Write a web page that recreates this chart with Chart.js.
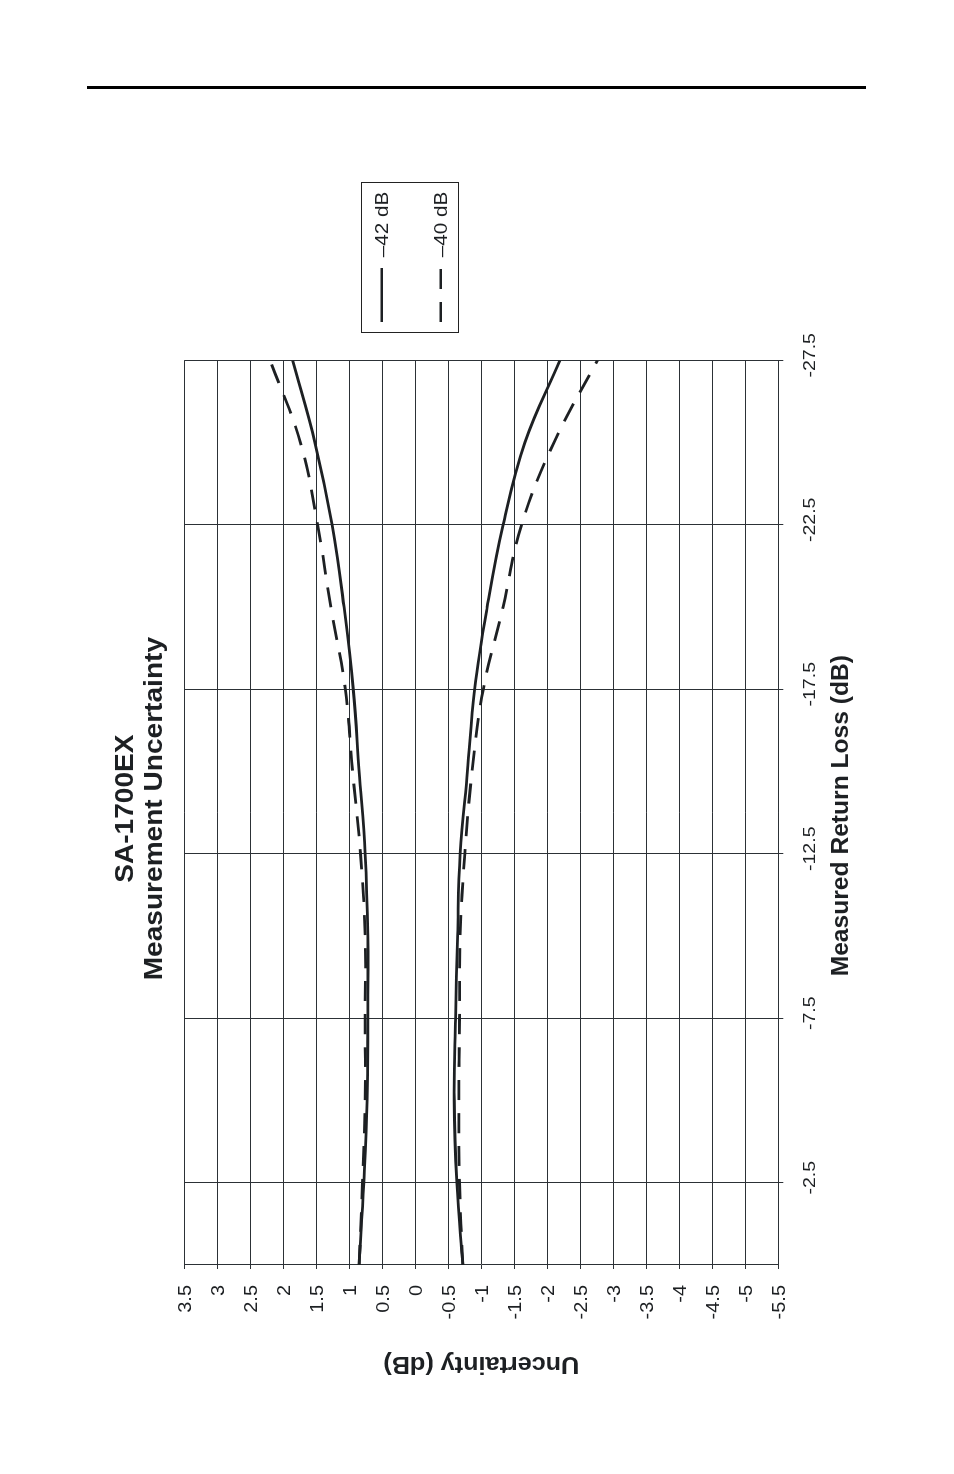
<!DOCTYPE html>
<html>
<head>
<meta charset="utf-8">
<title>SA-1700EX Measurement Uncertainty</title>
<script src="https://cdn.jsdelivr.net/npm/chart.js@4.4.1/dist/chart.umd.min.js"></script>
<style>
  html, body { margin: 0; padding: 0; background: #fff; width: 954px; height: 1474px; overflow: hidden; }
  .rule { position: absolute; left: 87px; top: 86px; width: 779px; height: 3px; background: #000; }
  /* the chart is drawn upright, then turned a quarter turn to the left like the printed page */
  #turn { position: absolute; left: 0; top: 1474px; width: 1474px; height: 954px; transform-origin: 0 0; transform: rotate(-90deg); }
</style>
</head>
<body>
<div class="rule"></div>
<div id="turn"><canvas id="chart" width="1474" height="954"></canvas></div>
<script>
// --- DATA ---
const titleLines = ['SA-1700EX', 'Measurement Uncertainty'];
const xTitle = 'Measured Return Loss (dB)';
const yTitle = 'Uncertainty (dB)';
const legendLabels = ['\u201342 dB', '\u201340 dB'];

const returnLoss = [0, -2.5, -5, -7.5, -10, -12.5, -15, -17.5, -20, -22.5, -25, -27.5];
const upper42 = [0.85, 0.78, 0.73, 0.72, 0.72, 0.76, 0.85, 0.94, 1.08, 1.26, 1.52, 1.86];
const lower42 = [-0.72, -0.63, -0.59, -0.61, -0.64, -0.68, -0.79, -0.90, -1.09, -1.33, -1.66, -2.19];
const upper40 = [0.85, 0.80, 0.76, 0.76, 0.76, 0.83, 0.95, 1.06, 1.28, 1.48, 1.74, 2.20];
const lower40 = [-0.72, -0.67, -0.66, -0.67, -0.68, -0.75, -0.86, -1.03, -1.33, -1.61, -2.10, -2.76];

const rlTicks = [-2.5, -7.5, -12.5, -17.5, -22.5, -27.5];
const uTicks = [3.5, 3, 2.5, 2, 1.5, 1, 0.5, 0, -0.5, -1, -1.5, -2, -2.5, -3, -3.5, -4, -4.5, -5, -5.5];

const ink = '#1d2023';
const gridInk = '#2c3136';
const face = '"Liberation Sans", Arial, sans-serif';
const dash = [20, 13];

function pts(ys) {
    return returnLoss.map((x, i) => ({ x: x, y: ys[i] }));
}

// text with a little horizontal stretch, as in the scanned original
function put(c, s, x, y, font, sx, align, rot) {
    c.save();
    c.translate(x, y);
    if (rot) c.rotate(rot);
    c.scale(sx, 1);
    c.font = font;
    c.textAlign = align;
    c.textBaseline = 'alphabetic';
    c.fillText(s, 0, 0);
    c.restore();
}

const textPlugin = {
    id: 'pageText',
    afterDraw(chart) {
        const c = chart.ctx;
        const xs = chart.scales.x;
        const ys = chart.scales.y;
        const area = chart.chartArea;
        const mid = (area.left + area.right) / 2;
        c.save();
        c.fillStyle = ink;

        // title
        put(c, titleLines[0], mid + 4, 133, 'bold 26px ' + face, 1.08, 'center');
        put(c, titleLines[1], mid + 4, 162, 'bold 26px ' + face, 1.08, 'center');

        // uncertainty tick labels
        uTicks.forEach(v => {
            put(c, String(v), area.left - 20, ys.getPixelForValue(v) + 6.8, '19px ' + face, 1.05, 'right');
        });
        put(c, yTitle, 117, (area.top + area.bottom) / 2, 'bold 24px ' + face, 1.05, 'center', -Math.PI / 2);

        // return loss tick labels
        rlTicks.forEach(v => {
            put(c, String(v), xs.getPixelForValue(v) + 5, area.bottom + 37, '17px ' + face, 1.15, 'center');
        });
        put(c, xTitle, mid - 3, area.bottom + 70, 'bold 23px ' + face, 1.07, 'center');

        // legend
        c.strokeStyle = '#222';
        c.lineWidth = 1;
        c.strokeRect(1141.5, 361.5, 150, 97);
        const rows = [381.7, 440.7];
        legendLabels.forEach((lab, i) => {
            c.save();
            c.strokeStyle = ink;
            c.lineWidth = 2.6;
            c.setLineDash(i === 0 ? [] : dash);
            c.beginPath();
            c.moveTo(1152, rows[i]);
            c.lineTo(1206, rows[i]);
            c.stroke();
            c.restore();
            put(c, lab, 1216.7, rows[i] + 6.5, '18px ' + face, 1.15, 'left');
        });
        c.restore();
    }
};

const ctx = document.getElementById('chart').getContext('2d');

new Chart(ctx, {
    type: 'line',
    data: {
        datasets: [
            { label: legendLabels[0], data: pts(upper42), borderColor: ink, borderWidth: 2.8, pointRadius: 0, tension: 0.4, fill: false },
            { label: legendLabels[0], data: pts(lower42), borderColor: ink, borderWidth: 2.8, pointRadius: 0, tension: 0.4, fill: false },
            { label: legendLabels[1], data: pts(upper40), borderColor: ink, borderWidth: 2.8, borderDash: dash, pointRadius: 0, tension: 0.4, fill: false },
            { label: legendLabels[1], data: pts(lower40), borderColor: ink, borderWidth: 2.8, borderDash: dash, pointRadius: 0, tension: 0.4, fill: false }
        ]
    },
    options: {
        responsive: false,
        animation: false,
        layout: {
            padding: { left: 205, right: 360.3, top: 184.3, bottom: 170.7 }
        },
        plugins: {
            legend: { display: false },
            title: { display: false },
            tooltip: { enabled: false }
        },
        scales: {
            x: {
                type: 'linear',
                min: -27.5,
                max: 0,
                reverse: true,
                afterBuildTicks: s => { s.ticks = rlTicks.map(v => ({ value: v })); },
                ticks: { display: false },
                grid: { color: gridInk, lineWidth: 1, drawTicks: true, tickLength: 5 },
                border: { display: true, color: gridInk, width: 1 }
            },
            y: {
                type: 'linear',
                min: -5.5,
                max: 3.5,
                afterBuildTicks: s => { s.ticks = uTicks.map(v => ({ value: v })); },
                ticks: { display: false },
                grid: { color: gridInk, lineWidth: 1, drawTicks: true, tickLength: 4 },
                border: { display: true, color: gridInk, width: 1 }
            }
        }
    },
    plugins: [textPlugin]
});
</script>
</body>
</html>
